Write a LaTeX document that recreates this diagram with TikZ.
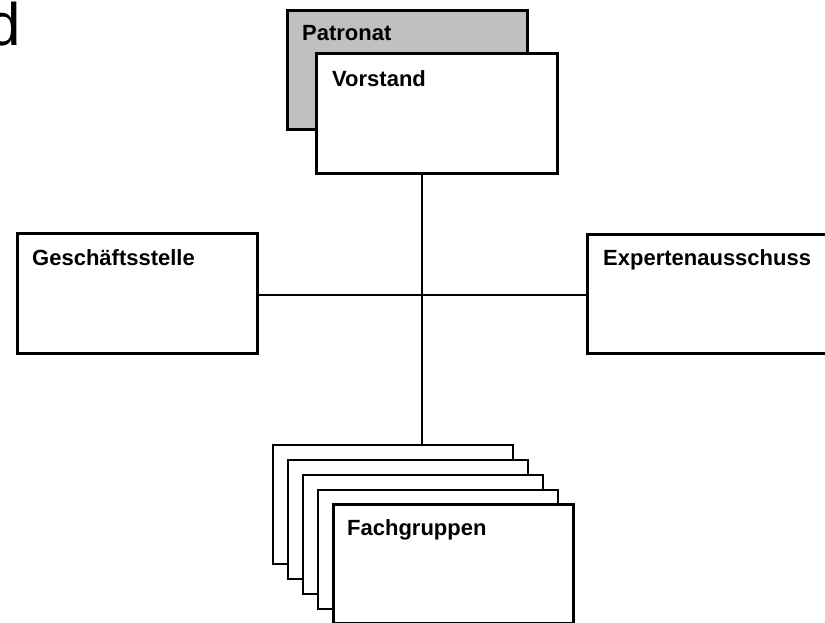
\documentclass[tikz,border=0pt]{standalone}
\usepackage{fontspec}
\setmainfont{Liberation Sans}
\definecolor{patgray}{HTML}{C0C0C0}
\begin{document}
\begin{tikzpicture}[x=1pt,y=-1pt,
  box/.style={draw=black, fill=white, line width=3pt, rectangle, inner sep=0pt, outer sep=0pt, anchor=north west, minimum width=240pt, minimum height=119pt},
  thinbox/.style={box, line width=1.6pt},
  lbl/.style={anchor=base west, inner sep=0pt, font=\fontsize{22}{26}\selectfont\bfseries},
  link/.style={line width=1.5pt},
  mainlink/.style={line width=2.7pt}]
\useasboundingbox (0,0) rectangle (825,622);
\begin{scope}
\clip (0,0) rectangle (825,622);
\node[anchor=base west, inner sep=0pt, font=\fontsize{60}{60}\selectfont] (frag) at (-13,45) {d};
% connectors
\coordinate (hub) at (422,295);
% boxes top
\node[box, fill=patgray] (pat) at (287,10) {};
\node[lbl] (patl) at (302,40) {Patronat};
\node[box, minimum width=241pt, minimum height=120pt] (vor) at (316,53) {};
\node[lbl] (vorl) at (332,86) {Vorstand};
% side boxes
\node[box, minimum height=120pt] (ges) at (17,233) {};
\node[lbl] (gesl) at (32,265) {Geschäftsstelle};
\node[box] (exp) at (587,234) {};
\node[lbl] (expl) at (603,265) {Expertenausschuss};
% Fachgruppen stack
\node[thinbox] (fg1) at (273,445) {};
\node[thinbox] (fg2) at (288,460) {};
\node[thinbox] (fg3) at (303,475) {};
\node[thinbox] (fg4) at (318,490) {};
\node[box] (fg5) at (333,504) {};
\node[lbl] (fgl) at (347,535) {Fachgruppen};
\draw[link] (vor.south -| hub) -- (fg1.north -| hub);
\draw[mainlink] (ges.east |- hub) -- (exp.west |- hub);
\end{scope}
\end{tikzpicture}
\end{document}
